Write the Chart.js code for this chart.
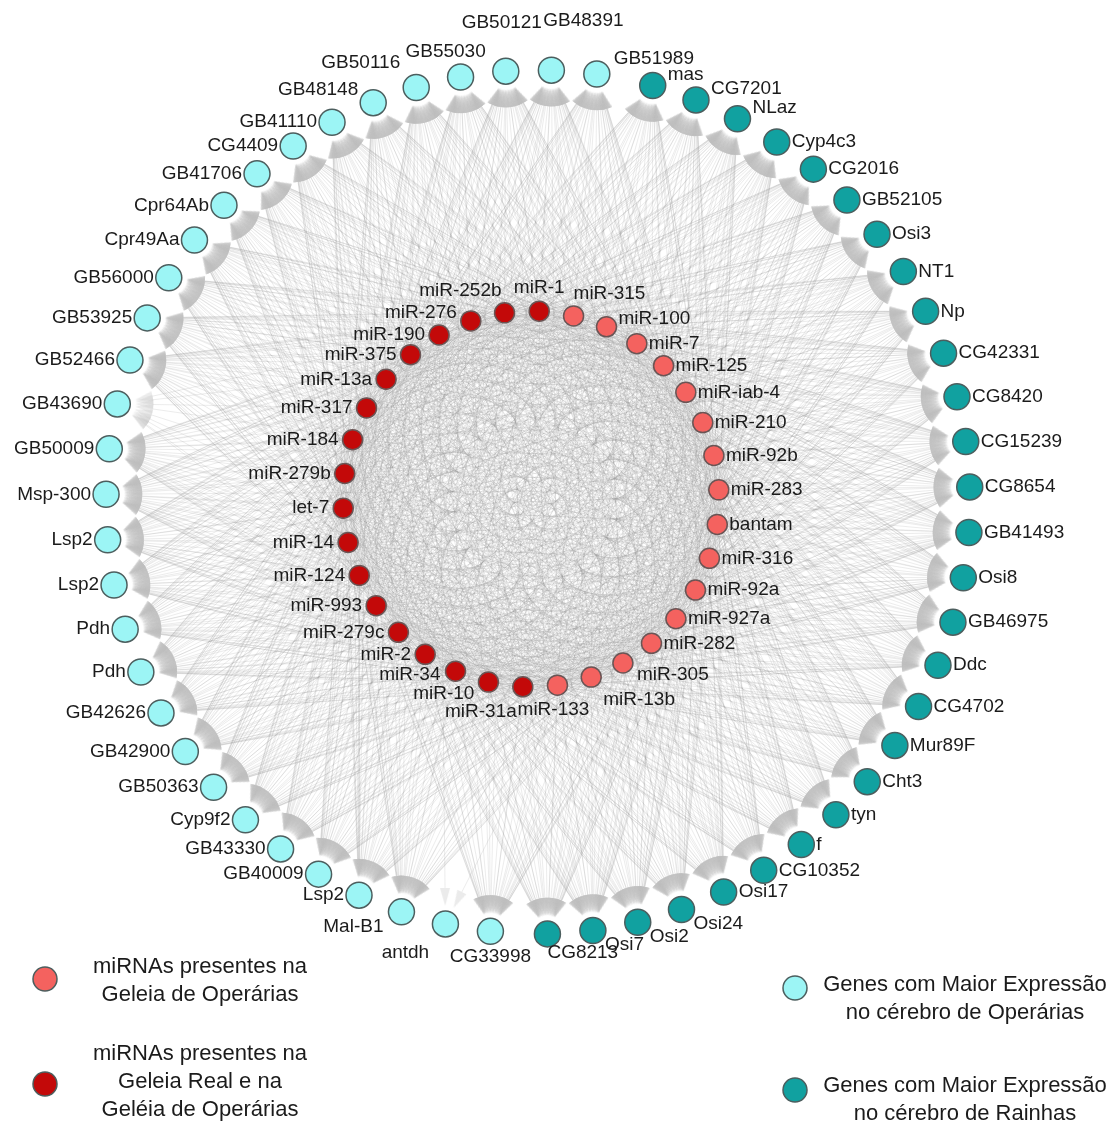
<!DOCTYPE html>
<html>
<head>
<meta charset="utf-8">
<title>Rede miRNA – genes</title>
<script src="https://cdn.jsdelivr.net/npm/chart.js@4/dist/chart.umd.min.js"></script>
<style>
  html, body { margin: 0; padding: 0; background: #ffffff; }
  #wrap { width: 1119px; height: 1126px; }
</style>
</head>
<body>
<div id="wrap"><canvas id="net" width="1119" height="1126"></canvas></div>
<script>
// ---- Network data -------------------------------------------------------

// Genes more expressed in queen brains, clockwise from the top
const queenGenes = ['mas', 'CG7201', 'NLaz', 'Cyp4c3', 'CG2016', 'GB52105', 'Osi3', 'NT1', 'Np',
  'CG42331', 'CG8420', 'CG15239', 'CG8654', 'GB41493', 'Osi8', 'GB46975', 'Ddc', 'CG4702',
  'Mur89F', 'Cht3', 'tyn', 'f', 'CG10352', 'Osi17', 'Osi24', 'Osi2', 'Osi7', 'CG8213'];

// Genes more expressed in worker brains, clockwise from the bottom
const workerGenes = ['CG33998', 'antdh', 'Mal-B1', 'Lsp2', 'GB40009', 'GB43330', 'Cyp9f2',
  'GB50363', 'GB42900', 'GB42626', 'Pdh', 'Pdh', 'Lsp2', 'Lsp2', 'Msp-300', 'GB50009',
  'GB43690', 'GB52466', 'GB53925', 'GB56000', 'Cpr49Aa', 'Cpr64Ab', 'GB41706', 'CG4409',
  'GB41110', 'GB48148', 'GB50116', 'GB55030', 'GB50121', 'GB48391', 'GB51989'];

// miRNAs, clockwise from the top
const miRNAs = ['miR-1', 'miR-315', 'miR-100', 'miR-7', 'miR-125', 'miR-iab-4', 'miR-210',
  'miR-92b', 'miR-283', 'bantam', 'miR-316', 'miR-92a', 'miR-927a', 'miR-282', 'miR-305',
  'miR-13b', 'miR-133', 'miR-31a', 'miR-10', 'miR-34', 'miR-2', 'miR-279c', 'miR-993',
  'miR-124', 'miR-14', 'let-7', 'miR-279b', 'miR-184', 'miR-317', 'miR-13a', 'miR-375',
  'miR-190', 'miR-276', 'miR-252b'];

// miRNAs found in both royal jelly and worker jelly (the rest: worker jelly only)
const royalJellyMiRNAs = ['miR-1', 'miR-31a', 'miR-10', 'miR-34', 'miR-2', 'miR-279c',
  'miR-993', 'miR-124', 'miR-14', 'let-7', 'miR-279b', 'miR-184', 'miR-317', 'miR-13a',
  'miR-375', 'miR-190', 'miR-276', 'miR-252b'];

// Genes reached by only a few miRNAs; every other gene is a target of all miRNAs
const sparseTargets = {
  'antdh': ['miR-190', 'miR-210'],
  'GB43690': ['miR-1', 'miR-7', 'miR-283', 'miR-92a', 'miR-13b', 'miR-10', 'miR-124', 'let-7', 'miR-317']
};

// Legend entries
const legendTexts = [
  ['miRNAs presentes na', 'Geleia de Operárias'],
  ['miRNAs presentes na', 'Geleia Real e na', 'Geléia de Operárias'],
  ['Genes com Maior Expressão', 'no cérebro de Operárias'],
  ['Genes com Maior Expressão', 'no cérebro de Rainhas']
];

// ---- Styles -------------------------------------------------------------
const COLORS = {
  workerGene: '#9CF5F5',
  queenGene: '#11A1A0',
  workerJelly: '#F4625F',
  royalJelly: '#C30909',
  geneBorder: '#4C5E5E',
  miBorder: '#6A5555',
  edge: 'rgba(140,140,140,0.17)',
  arrow: 'rgba(188,188,188,0.30)',
  text: '#1b1b1b'
};
const FONT = '"Liberation Sans", Arial, Helvetica, sans-serif';

// Circular layout: outer ring of genes (two groups with a small gap), inner ring of miRNAs
const LAYOUT = {
  outer: { cx: 538, cy: 502, r: 432, start: 15.4, step: 6.05, gap: 7.575, nodeR: 13 },
  inner: { cx: 531, cy: 499, r: 188, start: 2.5, nodeR: 10 },
  arrowGap: 18,      // distance from gene centre to the arrow tip
  arrowLength: 18,
  arrowWidth: 10
};

// Label placement: default side by ring half, with individual nudges
const outerLabelNudge = {
  'CG33998': ['center', 0, 25], 'antdh': ['center', -40, 29], 'Mal-B1': ['right', -18, 15],
  'GB48148': ['right', -15, -13], 'GB50116': ['right', -16, -25], 'GB55030': ['center', -15, -25],
  'GB50121': ['center', -4, -48], 'GB48391': ['center', 32, -49], 'GB51989': ['center', 57, -15],
  'CG8213': ['left', 0, 19]
};
const innerLabelNudge = {
  'miR-1': ['center', 0, -23], 'miR-252b': ['right', -3, -22], 'miR-315': ['left', 0, -22],
  'miR-100': ['left', 12, -8], 'miR-276': ['right', -14, -8], 'miR-305': ['left', 14, 12],
  'miR-13b': ['left', 12, 23], 'miR-133': ['center', -4, 25], 'miR-31a': ['right', -6, 25],
  'miR-10': ['right', -14, 12], 'miR-34': ['right', -15, 4]
};

// ---- Layout computation --------------------------------------------------
function polar(cx, cy, r, deg) {
  const a = deg * Math.PI / 180;
  return { x: cx + r * Math.sin(a), y: cy - r * Math.cos(a), deg: deg };
}

const O = LAYOUT.outer, I = LAYOUT.inner;
const queenNodes = queenGenes.map((name, i) => Object.assign({ name, kind: 'queen' },
  polar(O.cx, O.cy, O.r, O.start + i * O.step)));
const workerStart = O.start + (queenGenes.length - 1) * O.step + O.gap;
const workerNodes = workerGenes.map((name, i) => Object.assign({ name, kind: 'worker' },
  polar(O.cx, O.cy, O.r, workerStart + i * O.step)));
const geneNodes = queenNodes.concat(workerNodes);

const miStep = 360 / miRNAs.length;
const miNodes = miRNAs.map((name, i) => Object.assign({
  name, royal: royalJellyMiRNAs.includes(name)
}, polar(I.cx, I.cy, I.r, I.start + i * miStep)));

// Arrowhead sprite, pointing up; rotated per edge by Chart.js
const arrowSprite = (() => {
  const c = document.createElement('canvas');
  c.width = LAYOUT.arrowWidth;
  c.height = LAYOUT.arrowLength;
  const g = c.getContext('2d');
  g.fillStyle = COLORS.arrow;
  g.beginPath();
  g.moveTo(c.width / 2, 0);
  g.lineTo(c.width, c.height);
  g.lineTo(0, c.height);
  g.closePath();
  g.fill();
  return c;
})();

// Edges (miRNA -> gene) and their arrowheads
const edgePoints = [];
const arrowPoints = [];
const arrowRotation = [];
geneNodes.forEach(g => {
  const sources = sparseTargets[g.name] || miRNAs;
  sources.forEach(mName => {
    const m = miNodes[miRNAs.indexOf(mName)];
    const dx = g.x - m.x, dy = g.y - m.y;
    const len = Math.hypot(dx, dy);
    const ux = dx / len, uy = dy / len;
    const tipX = g.x - ux * LAYOUT.arrowGap, tipY = g.y - uy * LAYOUT.arrowGap;
    const half = LAYOUT.arrowLength / 2;
    arrowPoints.push({ x: tipX - ux * half, y: tipY - uy * half });
    arrowRotation.push(Math.atan2(ux, -uy) * 180 / Math.PI);
    const baseX = tipX - ux * LAYOUT.arrowLength, baseY = tipY - uy * LAYOUT.arrowLength;
    edgePoints.push({ x: m.x, y: m.y }, { x: baseX, y: baseY }, { x: null, y: null });
  });
});

// ---- Plugins: node labels and legend ------------------------------------
function placeLabel(node, nudge, defAlign, defDx, defDy) {
  const n = nudge[node.name];
  return n ? { align: n[0], dx: n[1], dy: n[2] } : { align: defAlign, dx: defDx, dy: defDy };
}

const labelPlugin = {
  id: 'nodeLabels',
  afterDatasetsDraw(chart) {
    const ctx = chart.ctx, xs = chart.scales.x, ys = chart.scales.y;
    ctx.save();
    ctx.fillStyle = COLORS.text;
    ctx.font = '19px ' + FONT;
    ctx.textBaseline = 'middle';
    const draw = (node, p) => {
      ctx.textAlign = p.align;
      ctx.fillText(node.name, xs.getPixelForValue(node.x) + p.dx, ys.getPixelForValue(node.y) + p.dy);
    };
    queenNodes.forEach(n => {
      let dx = 15, dy = 0;
      if (n.deg < 30) dy = -11;
      if (n.deg > 158) { dx = 12; dy = 14; }
      draw(n, placeLabel(n, outerLabelNudge, 'left', dx, dy));
    });
    workerNodes.forEach(n => draw(n, placeLabel(n, outerLabelNudge, 'right', -15, 0)));
    miNodes.forEach(n => {
      const right = n.deg < 180;
      draw(n, placeLabel(n, innerLabelNudge, right ? 'left' : 'right', right ? 12 : -14, 0));
    });
    ctx.restore();
  }
};

const LEGEND = [
  { color: COLORS.workerJelly, mx: 45, my: 979, tx: 200, ty: 967 },
  { color: COLORS.royalJelly, mx: 45, my: 1084, tx: 200, ty: 1054 },
  { color: COLORS.workerGene, mx: 795, my: 988, tx: 965, ty: 985 },
  { color: COLORS.queenGene, mx: 795, my: 1090, tx: 965, ty: 1086 }
];

const legendPlugin = {
  id: 'netLegend',
  afterDraw(chart) {
    const ctx = chart.ctx;
    ctx.save();
    LEGEND.forEach((it, k) => {
      ctx.beginPath();
      ctx.arc(it.mx, it.my, 12, 0, Math.PI * 2);
      ctx.fillStyle = it.color;
      ctx.fill();
      ctx.lineWidth = 1.5;
      ctx.strokeStyle = COLORS.geneBorder;
      ctx.stroke();
      ctx.fillStyle = COLORS.text;
      ctx.font = '22px ' + FONT;
      ctx.textAlign = 'center';
      ctx.textBaseline = 'middle';
      legendTexts[k].forEach((line, j) => ctx.fillText(line, it.tx, it.ty + j * 28));
    });
    ctx.restore();
  }
};

// ---- Chart --------------------------------------------------------------
const nodeDataset = (label, nodes, color, border, radius) => ({
  label, data: nodes.map(n => ({ x: n.x, y: n.y })),
  pointRadius: radius, pointHoverRadius: radius,
  backgroundColor: color, borderColor: border, pointBorderWidth: 1.5,
  pointStyle: 'circle', showLine: false, order: 0, clip: false
});

new Chart(document.getElementById('net'), {
  type: 'scatter',
  data: {
    datasets: [
      nodeDataset('Rainhas', queenNodes, COLORS.queenGene, COLORS.geneBorder, O.nodeR),
      nodeDataset('Operárias', workerNodes, COLORS.workerGene, COLORS.geneBorder, O.nodeR),
      nodeDataset('Geleia de Operárias', miNodes.filter(n => !n.royal), COLORS.workerJelly, COLORS.miBorder, I.nodeR),
      nodeDataset('Geleia Real', miNodes.filter(n => n.royal), COLORS.royalJelly, COLORS.miBorder, I.nodeR),
      {
        label: 'setas', data: arrowPoints, pointStyle: arrowSprite,
        pointRadius: 9, pointHoverRadius: 9,
        pointRotation: arrowRotation,
        pointBorderWidth: 0, showLine: false, order: 1, clip: false
      },
      {
        label: 'interações', data: edgePoints, showLine: true, spanGaps: false,
        borderColor: COLORS.edge, borderWidth: 1, pointRadius: 0, pointHoverRadius: 0,
        segment: { borderColor: COLORS.edge }, order: 2, clip: false
      }
    ]
  },
  options: {
    responsive: false,
    animation: false,
    events: [],
    layout: { padding: 0, autoPadding: false },
    plugins: { legend: { display: false }, tooltip: { enabled: false } },
    scales: {
      x: { type: 'linear', min: 0, max: 1119, display: false },
      y: { type: 'linear', min: 0, max: 1126, reverse: true, display: false }
    }
  },
  plugins: [labelPlugin, legendPlugin]
});
</script>
</body>
</html>
